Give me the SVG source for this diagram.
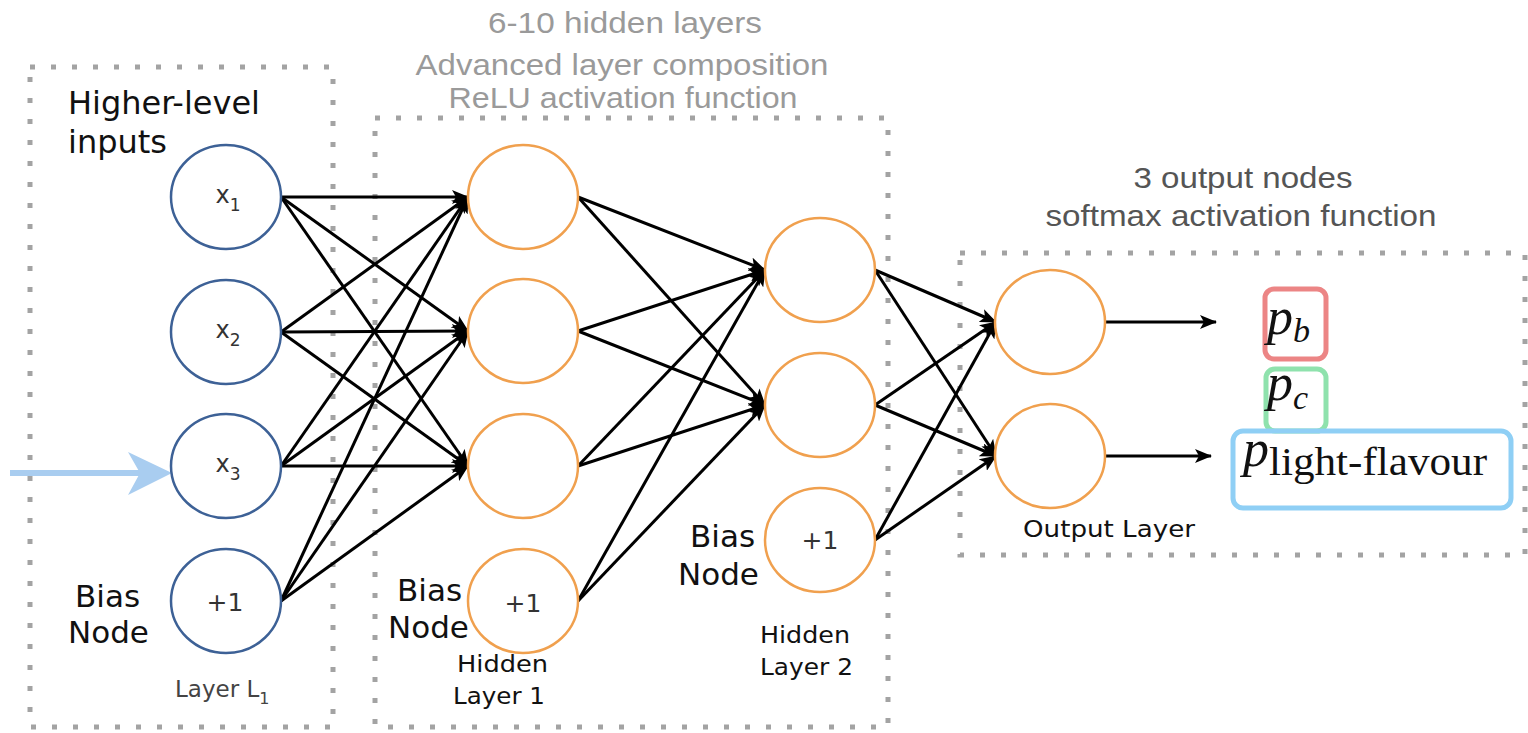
<svg xmlns="http://www.w3.org/2000/svg" width="1528" height="733" viewBox="0 0 1528 733">
  <style>
    .box { fill: none; stroke: #a3a3a3; stroke-width: 5; stroke-dasharray: 5 16; }
    .in { fill: #fff; stroke: #3d6196; stroke-width: 2.5; }
    .hid { fill: #fff; stroke: #f0a04e; stroke-width: 2.5; }
    .edge { stroke: #000; stroke-width: 3; fill: none; marker-end: url(#arrow); }
    .lbl { font-family: "DejaVu Sans", sans-serif; fill: #111; }
    .big { font-size: 31px; }
    .small { font-size: 23px; }
    .node { font-family: "DejaVu Sans", sans-serif; fill: #333; text-anchor: middle; }
    .head { font-family: "Liberation Sans", Arial, sans-serif; font-size: 30px; text-anchor: middle; }
    .math { font-family: "Liberation Serif", "Times New Roman", serif; fill: #111; }
  </style>
  <defs>
    <marker id="arrow" markerUnits="userSpaceOnUse" markerWidth="18" markerHeight="14" refX="16" refY="7" orient="auto">
      <path d="M0,0 L17,7 L0,14 L4,7 Z" fill="#000"/>
    </marker>
  </defs>

  <!-- dotted layer frames -->
  <rect class="box" x="30" y="67" width="303" height="660"/>
  <rect class="box" x="375" y="118" width="513" height="609"/>
  <rect class="box" x="960" y="253" width="565" height="302"/>

  <!-- headings -->
  <g fill="#9a9a9a">
    <text class="head" x="625" y="33" textLength="274" lengthAdjust="spacingAndGlyphs">6-10 hidden layers</text>
    <text class="head" x="622" y="75" textLength="413" lengthAdjust="spacingAndGlyphs">Advanced layer composition</text>
    <text class="head" x="623" y="108" textLength="349" lengthAdjust="spacingAndGlyphs">ReLU activation function</text>
  </g>
  <g fill="#555">
    <text class="head" x="1243" y="188" textLength="219" lengthAdjust="spacingAndGlyphs">3 output nodes</text>
    <text class="head" x="1241" y="226" textLength="391" lengthAdjust="spacingAndGlyphs">softmax activation function</text>
  </g>

  <!-- connectors -->
  <g id="connectors">
    <!-- input layer to hidden layer 1 -->
    <line class="edge" x1="281" y1="197" x2="468" y2="197"/>
    <line class="edge" x1="281" y1="197" x2="468" y2="331"/>
    <line class="edge" x1="281" y1="197" x2="468" y2="466"/>
    <line class="edge" x1="281" y1="332" x2="468" y2="197"/>
    <line class="edge" x1="281" y1="332" x2="468" y2="331"/>
    <line class="edge" x1="281" y1="332" x2="468" y2="466"/>
    <line class="edge" x1="281" y1="466" x2="468" y2="197"/>
    <line class="edge" x1="281" y1="466" x2="468" y2="331"/>
    <line class="edge" x1="281" y1="466" x2="468" y2="466"/>
    <line class="edge" x1="281" y1="601" x2="468" y2="197"/>
    <line class="edge" x1="281" y1="601" x2="468" y2="331"/>
    <line class="edge" x1="281" y1="601" x2="468" y2="466"/>
    <!-- hidden layer 1 to hidden layer 2 -->
    <line class="edge" x1="578" y1="197" x2="765" y2="270"/>
    <line class="edge" x1="578" y1="197" x2="765" y2="405"/>
    <line class="edge" x1="578" y1="331" x2="765" y2="270"/>
    <line class="edge" x1="578" y1="331" x2="765" y2="405"/>
    <line class="edge" x1="578" y1="466" x2="765" y2="270"/>
    <line class="edge" x1="578" y1="466" x2="765" y2="405"/>
    <line class="edge" x1="578" y1="601" x2="765" y2="270"/>
    <line class="edge" x1="578" y1="601" x2="765" y2="405"/>
    <!-- hidden layer 2 to output layer -->
    <line class="edge" x1="875" y1="270" x2="996" y2="322"/>
    <line class="edge" x1="875" y1="270" x2="996" y2="456"/>
    <line class="edge" x1="875" y1="405" x2="996" y2="322"/>
    <line class="edge" x1="875" y1="405" x2="996" y2="456"/>
    <line class="edge" x1="875" y1="540" x2="996" y2="322"/>
    <line class="edge" x1="875" y1="540" x2="996" y2="456"/>
    <!-- outputs to class probabilities -->
    <line class="edge" x1="1106" y1="322" x2="1216" y2="322"/>
    <line class="edge" x1="1106" y1="456" x2="1211" y2="456"/>
    <!-- incoming feature arrow -->
    <line x1="10" y1="473" x2="140" y2="473" stroke="#a9cdf0" stroke-width="6"/>
    <path d="M128,452 L172,473 L128,495 L140,473 Z" fill="#a9cdf0"/>
  </g>

  <!-- input layer -->
  <g id="input-x1">
    <ellipse class="in" cx="226" cy="197" rx="55" ry="52"/>
    <text class="node" x="228" y="203" font-size="24">x<tspan font-size="17" dy="8">1</tspan></text>
  </g>
  <g id="input-x2">
    <ellipse class="in" cx="226" cy="332" rx="55" ry="52"/>
    <text class="node" x="228" y="338" font-size="24">x<tspan font-size="17" dy="8">2</tspan></text>
  </g>
  <g id="input-x3">
    <ellipse class="in" cx="226" cy="466" rx="55" ry="52"/>
    <text class="node" x="228" y="472" font-size="24">x<tspan font-size="17" dy="8">3</tspan></text>
  </g>
  <g id="input-bias">
    <ellipse class="in" cx="226" cy="601" rx="55" ry="52"/>
    <text class="node" x="225" y="611" font-size="25">+1</text>
  </g>
  <g id="input-labels">
    <text class="lbl" x="68" y="114" font-size="32">Higher-level</text>
    <text class="lbl" x="68" y="153" font-size="32">inputs</text>
    <text class="lbl big" x="75" y="607">Bias</text>
    <text class="lbl big" x="68" y="643">Node</text>
    <text x="175" y="697" font-family="DejaVu Sans, sans-serif" font-size="23" fill="#444">Layer L<tspan font-size="16" dy="7">1</tspan></text>
  </g>

  <!-- hidden layer 1 -->
  <g id="h1-1"><ellipse class="hid" cx="523" cy="197" rx="55" ry="52"/></g>
  <g id="h1-2"><ellipse class="hid" cx="523" cy="331" rx="55" ry="52"/></g>
  <g id="h1-3"><ellipse class="hid" cx="523" cy="466" rx="55" ry="52"/></g>
  <g id="h1-bias">
    <ellipse class="hid" cx="523" cy="601" rx="55" ry="52"/>
    <text class="node" x="523" y="612" font-size="25">+1</text>
  </g>
  <g id="h1-labels">
    <text class="lbl big" x="397" y="601">Bias</text>
    <text class="lbl big" x="388" y="638">Node</text>
    <text class="lbl small" x="457" y="672" textLength="91" lengthAdjust="spacingAndGlyphs">Hidden</text>
    <text class="lbl small" x="453" y="704" textLength="92" lengthAdjust="spacingAndGlyphs">Layer 1</text>
  </g>

  <!-- hidden layer 2 -->
  <g id="h2-1"><ellipse class="hid" cx="820" cy="270" rx="55" ry="52"/></g>
  <g id="h2-2"><ellipse class="hid" cx="820" cy="405" rx="55" ry="52"/></g>
  <g id="h2-bias">
    <ellipse class="hid" cx="820" cy="540" rx="55" ry="52"/>
    <text class="node" x="820" y="549" font-size="25">+1</text>
  </g>
  <g id="h2-labels">
    <text class="lbl big" x="690" y="547">Bias</text>
    <text class="lbl big" x="678" y="585">Node</text>
    <text class="lbl small" x="760" y="643" textLength="90" lengthAdjust="spacingAndGlyphs">Hidden</text>
    <text class="lbl small" x="760" y="675" textLength="93" lengthAdjust="spacingAndGlyphs">Layer 2</text>
  </g>

  <!-- output layer -->
  <g id="out-1"><ellipse class="hid" cx="1050" cy="322" rx="55" ry="52"/></g>
  <g id="out-2"><ellipse class="hid" cx="1050" cy="456" rx="55" ry="52"/></g>
  <g id="out-label">
    <text class="lbl small" x="1023" y="537" textLength="172" lengthAdjust="spacingAndGlyphs">Output Layer</text>
  </g>

  <!-- class probabilities -->
  <g id="p-b">
    <rect x="1265" y="289" width="61" height="70" rx="9" fill="none" stroke="#ec8585" stroke-width="5"/>
    <text class="math" x="1267" y="334" font-size="52" font-style="italic">p<tspan font-size="34" dy="8">b</tspan></text>
  </g>
  <g id="p-c">
    <rect x="1266" y="369" width="60" height="62" rx="9" fill="none" stroke="#8fe2ad" stroke-width="5"/>
    <text class="math" x="1267" y="400" font-size="52" font-style="italic">p<tspan font-size="34" dy="9">c</tspan></text>
  </g>
  <g id="p-light">
    <rect x="1233" y="431" width="278" height="77" rx="10" fill="none" stroke="#8fcff5" stroke-width="5"/>
    <text class="math" x="1243" y="466" font-size="52" font-style="italic">p<tspan font-style="normal" font-size="40" dy="9" textLength="218" lengthAdjust="spacingAndGlyphs">light-flavour</tspan></text>
  </g>
</svg>
